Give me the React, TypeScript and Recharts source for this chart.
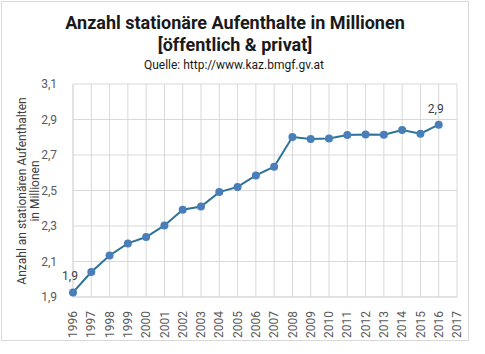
import React from "react";
import { LineChart, Line, XAxis, YAxis, CartesianGrid, LabelList, Label } from "recharts";

const years = ["1996","1997","1998","1999","2000","2001","2002","2003","2004","2005","2006","2007","2008","2009","2010","2011","2012","2013","2014","2015","2016","2017"];
const values: (number | null)[] = [1.926,2.041,2.134,2.202,2.238,2.303,2.392,2.41,2.491,2.52,2.585,2.634,2.801,2.79,2.793,2.813,2.816,2.814,2.841,2.82,2.871,null];
const yTicks = [1.9, 2.1, 2.3, 2.5, 2.7, 2.9, 3.1];
const labelledIndices = [0, 20];

const data = years.map((y, i) => ({ year: y, value: values[i] }));

const FONT = "Roboto, 'Noto Sans', sans-serif";
const fmt = (v: number) => v.toFixed(1).replace(".", ",");

const XTick = (props: any) => {
  const { x, y, payload } = props;
  return (
    <text
      x={x}
      y={y}
      transform={`rotate(-90, ${x}, ${y})`}
      textAnchor="end"
      dy="0.35em"
      dx={-6}
      fill="#595959"
      fontSize={12}
      fontFamily={FONT}
    >
      {payload.value}
    </text>
  );
};

const PointLabel = (props: any) => {
  const { x, y, index, value } = props;
  if (!labelledIndices.includes(index) || value == null) return null;
  return (
    <text x={x - 3} y={y - 12} textAnchor="middle" fill="#404040" fontSize={12} fontFamily={FONT}>
      {fmt(value)}
    </text>
  );
};

const YLabel = (props: any) => {
  const cx = 28;
  const cy = 191;
  return (
    <text
      transform={`rotate(-90, ${cx}, ${cy})`}
      x={cx}
      y={cy}
      textAnchor="middle"
      fill="#404040"
      fontSize={12}
      fontFamily={FONT}
    >
      <tspan x={cx} dy={-2}>Anzahl an stationären Aufenthalten</tspan>
      <tspan x={cx} dy={13}>in Millionen</tspan>
    </text>
  );
};

export default function App() {
  return (
    <div style={{ position: "absolute", left: 0, top: 0, width: 485, height: 354, background: "#fff", fontFamily: FONT }}>
      <div style={{ position: "absolute", left: 1, top: 1, width: 466, height: 338, border: "1px solid #d9d9d9" }} />
      <div style={{ position: "absolute", left: 0, top: 12, width: 470, textAlign: "center", fontWeight: 700, fontSize: 18, lineHeight: "22px", color: "#1a1a1a" }}>
        Anzahl stationäre Aufenthalte in Millionen
        <br />
        [öffentlich &amp; privat]
      </div>
      <div style={{ position: "absolute", left: 0, top: 58, width: 468, textAlign: "center", fontSize: 12, color: "#1a1a1a" }}>
        Quelle: http://www.kaz.bmgf.gv.at
      </div>
      <div style={{ position: "absolute", left: 0, top: 0 }}>
        <LineChart width={485} height={354} data={data} margin={{ top: 84, right: 28, bottom: 17, left: 28 }}>
          <CartesianGrid stroke="#d9d9d9" vertical horizontal />
          <XAxis
            dataKey="year"
            interval={0}
            height={40}
            tick={<XTick />}
            tickLine={false}
            axisLine={{ stroke: "#d9d9d9" }}
          />
          <YAxis
            domain={[1.9, 3.1]}
            ticks={yTicks}
            width={45}
            tickFormatter={fmt}
            tick={{ fill: "#595959", fontSize: 12, fontFamily: FONT }}
            tickLine={false}
            tickSize={0}
            tickMargin={16}
            axisLine={{ stroke: "#d9d9d9" }}
            allowDataOverflow
          >
            <Label content={<YLabel />} />
          </YAxis>
          <Line
            type="linear"
            dataKey="value"
            stroke="#2e7395"
            strokeWidth={2}
            dot={{ r: 4, fill: "#4a7ebb", stroke: "#4a7ebb", strokeWidth: 0 }}
            isAnimationActive={false}
          >
            <LabelList dataKey="value" content={<PointLabel />} />
          </Line>
        </LineChart>
      </div>
    </div>
  );
}
